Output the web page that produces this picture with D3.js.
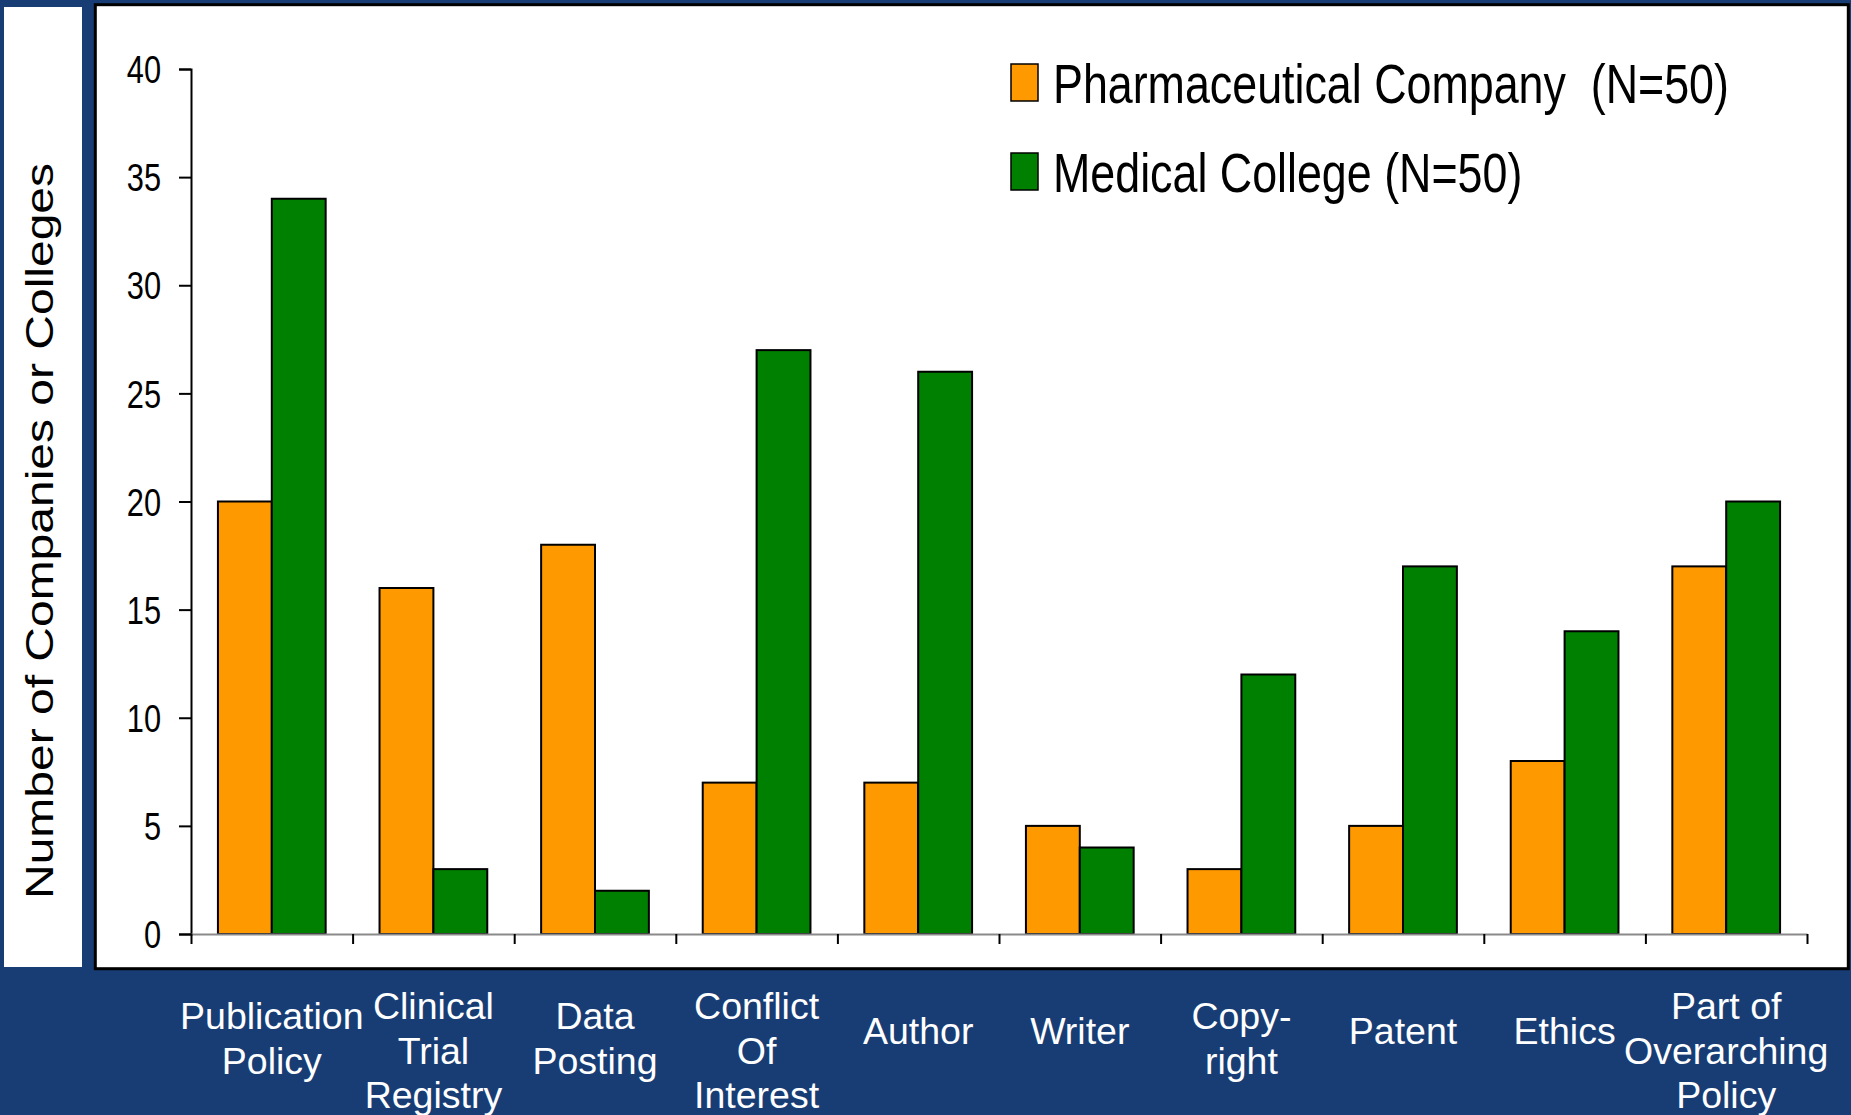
<!DOCTYPE html>
<html>
<head>
<meta charset="utf-8">
<script src="https://cdn.jsdelivr.net/npm/d3@7"></script>
<style>
    html, body { margin: 0; padding: 0; background: #183d75; }
    svg { display: block; }
    text { font-family: "Liberation Sans", Arial, sans-serif; }
</style>
</head>
<body>
<svg id="chart" width="1851" height="1115"></svg>
<script>
// data
var categories = [
    ["Publication", "Policy"],
    ["Clinical", "Trial", "Registry"],
    ["Data", "Posting"],
    ["Conflict", "Of", "Interest"],
    ["Author"],
    ["Writer"],
    ["Copy-", "right"],
    ["Patent"],
    ["Ethics"],
    ["Part of", "Overarching", "Policy"]
];
var seriesNames = ["Pharmaceutical Company  (N=50)", "Medical College (N=50)"];
var pharmaValues = [20, 16, 18, 7, 7, 5, 3, 5, 8, 17];
var collegeValues = [34, 3, 2, 27, 26, 4, 12, 17, 14, 20];
var yTicks = [0, 5, 10, 15, 20, 25, 30, 35, 40];

var colors = ["#ff9900", "#008000"];
var narrow = 0.81; // the original is squeezed sideways

var svg = d3.select("#chart");

// left white strip with the axis title
svg.append("rect")
    .attr("x", 4).attr("y", 7)
    .attr("width", 78).attr("height", 960)
    .attr("fill", "white");

svg.append("text")
    .attr("transform", "translate(53,531) scale(" + narrow + ",1) rotate(-90)")
    .attr("text-anchor", "middle")
    .attr("font-size", 48)
    .attr("fill", "black")
    .text("Number of Companies or Colleges");

// main white panel
svg.append("rect")
    .attr("x", 95.3).attr("y", 4.7)
    .attr("width", 1753).attr("height", 964)
    .attr("fill", "white")
    .attr("stroke", "black")
    .attr("stroke-width", 3);

// scales
var keys = categories.map(d => d.join(" "));
var rows = keys.map((k, i) => ({ key: k, lines: categories[i], values: [pharmaValues[i], collegeValues[i]] }));

var x = d3.scaleBand()
    .domain(keys)
    .range([191, 1807])
    .paddingInner(0)
    .paddingOuter(0);

var xSub = d3.scaleBand()
    .domain([0, 1])
    .range([0, x.bandwidth()])
    .paddingInner(0)
    .paddingOuter(0.5);

var y = d3.scaleLinear()
    .domain([0, 40])
    .range([934, 69]);

// bars
var groups = svg.append("g")
    .selectAll("g")
    .data(rows)
    .join("g")
    .attr("transform", d => `translate(${x(d.key)},0)`);

groups.selectAll("rect")
    .data(d => d.values.map((v, j) => ({ j: j, v: v })))
    .join("rect")
    .attr("x", d => xSub(d.j))
    .attr("y", d => y(d.v))
    .attr("width", xSub.bandwidth())
    .attr("height", d => y(0) - y(d.v))
    .attr("fill", d => colors[d.j])
    .attr("stroke", "black")
    .attr("stroke-width", 2);

// y axis
var yAxis = svg.append("g")
    .attr("transform", "translate(191,0)")
    .call(d3.axisLeft(y).tickValues(yTicks).tickSize(12).tickPadding(0));

yAxis.select(".domain").attr("stroke", "black").attr("stroke-width", 2);
yAxis.selectAll(".tick line").attr("stroke", "black").attr("stroke-width", 2);
yAxis.selectAll(".tick text")
    .attr("x", -30 / narrow)
    .attr("dy", "0.36em")
    .attr("transform", "scale(" + narrow + ",1)")
    .attr("font-size", 38)
    .attr("font-family", "'Liberation Sans', Arial, sans-serif")
    .attr("fill", "black");

// x axis: ticks between the categories
var xEdges = d3.scaleLinear().domain([0, keys.length]).range(x.range());
var xAxis = svg.append("g")
    .attr("transform", "translate(0,934)")
    .call(d3.axisBottom(xEdges).ticks(keys.length).tickSize(10).tickSizeOuter(0).tickFormat(""));

xAxis.select(".domain").attr("stroke", "#8a8a8a").attr("stroke-width", 2);
xAxis.selectAll(".tick line").attr("stroke", "black").attr("stroke-width", 2);

// category labels below the panel
var firstBaseline = { 1: 1044, 2: 1029, 3: 1019 };
var lineGap = 44.5;

svg.append("g")
    .selectAll("text")
    .data(rows)
    .join("text")
    .attr("x", d => x(d.key) + x.bandwidth() / 2)
    .attr("y", d => firstBaseline[d.lines.length])
    .attr("text-anchor", "middle")
    .attr("font-size", 37.5)
    .attr("fill", "white")
    .selectAll("tspan")
    .data(d => d.lines.map((line, i) => ({ line: line, i: i, cx: x(d.key) + x.bandwidth() / 2 })))
    .join("tspan")
    .attr("x", d => d.cx)
    .attr("dy", d => d.i === 0 ? 0 : lineGap)
    .text(d => d.line);

// legend
var legend = svg.append("g")
    .selectAll("g")
    .data(seriesNames)
    .join("g")
    .attr("transform", (d, i) => `translate(1011,${64 + i * 89})`);

legend.append("rect")
    .attr("width", 27)
    .attr("height", 37)
    .attr("fill", (d, i) => colors[i])
    .attr("stroke", "black")
    .attr("stroke-width", 1.5);

legend.append("text")
    .attr("transform", "translate(42,39) scale(0.8,1)")
    .attr("font-size", 56)
    .attr("fill", "black")
    .style("white-space", "pre")
    .text(d => d);
</script>
</body>
</html>
